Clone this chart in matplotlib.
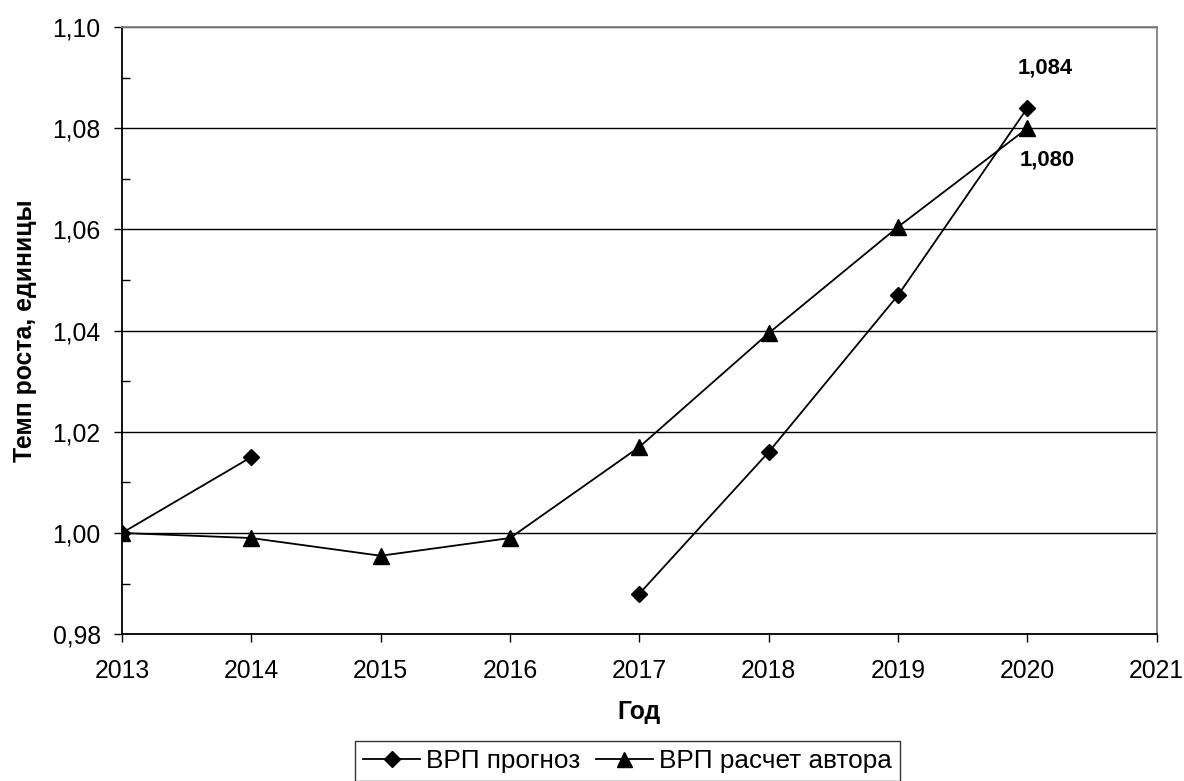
import matplotlib
matplotlib.use("Agg")
import matplotlib.pyplot as plt
import numpy as np
from matplotlib.ticker import MultipleLocator, FuncFormatter

plt.rcParams['font.family'] = ['Liberation Sans', 'DejaVu Sans']

years = [2013, 2014, 2015, 2016, 2017, 2018, 2019, 2020]
forecast = [1.000, 1.015, np.nan, np.nan, 0.988, 1.016, 1.047, 1.084]
author = [1.000, 0.999, 0.9955, 0.999, 1.017, 1.0395, 1.0605, 1.080]
series_names = ["ВРП прогноз", "ВРП расчет автора"]
y_label = "Темп роста, единицы"
x_label = "Год"

FS = 17.8
LFS = 18.8

fig = plt.figure(figsize=(11.84, 7.81), dpi=100)
ax = fig.add_axes([0.103, 0.188, 0.874, 0.7774])

l1, = ax.plot(years, forecast, color='black', lw=1.3, marker='D', ms=8.5,
              markerfacecolor='black', label=series_names[0], zorder=3)
l2, = ax.plot(years, author, color='black', lw=1.3, marker='^', ms=12,
              markerfacecolor='black', label=series_names[1], zorder=3)

ax.set_xlim(2013, 2021)
ax.set_ylim(0.98, 1.10)
ax.xaxis.set_major_locator(MultipleLocator(1))
ax.yaxis.set_major_locator(MultipleLocator(0.02))
ax.yaxis.set_minor_locator(MultipleLocator(0.01))
ax.yaxis.set_major_formatter(FuncFormatter(lambda v, p: f"{v:.2f}".replace('.', ',')))
ax.tick_params(axis='both', which='major', labelsize=FS, direction='out', length=5.8, width=1)
ax.tick_params(axis='y', which='major', pad=9.5)
ax.tick_params(axis='x', which='major', pad=12)
ax.tick_params(axis='y', which='minor', direction='in', length=5.8, width=1)
ax.grid(axis='y', which='major', color='black', lw=1)
ax.set_axisbelow(True)
for s in ['top', 'right']:
    ax.spines[s].set_color('#808080')
    ax.spines[s].set_linewidth(1.3)
for s in ['left', 'bottom']:
    ax.spines[s].set_linewidth(1.3)

ax.set_ylabel(y_label, fontsize=FS, fontweight='bold', labelpad=11)
ax.set_xlabel(x_label, fontsize=FS, fontweight='bold', labelpad=12)

ax.annotate(f"{forecast[-1]:.3f}".replace('.', ','), (years[-1], forecast[-1]),
            xytext=(13, 29), textcoords='offset points', ha='center', va='center',
            fontsize=15.8, fontweight='bold')
ax.annotate(f"{author[-1]:.3f}".replace('.', ','), (years[-1], author[-1]),
            xytext=(14.5, -23), textcoords='offset points', ha='center', va='center',
            fontsize=15.8, fontweight='bold')

leg = fig.legend(handles=[l1, l2], loc='upper left',
                 bbox_to_anchor=(355 / 1184, 1 - 741 / 781),
                 ncol=2, fontsize=LFS, frameon=True, fancybox=False, edgecolor='black',
                 handlelength=2.2, handletextpad=0.23, columnspacing=0.58,
                 borderpad=0.3, borderaxespad=0.0, markerscale=0.9)
leg.get_frame().set_linewidth(1.0)

fig.savefig("out.png", dpi=100, facecolor='white')
